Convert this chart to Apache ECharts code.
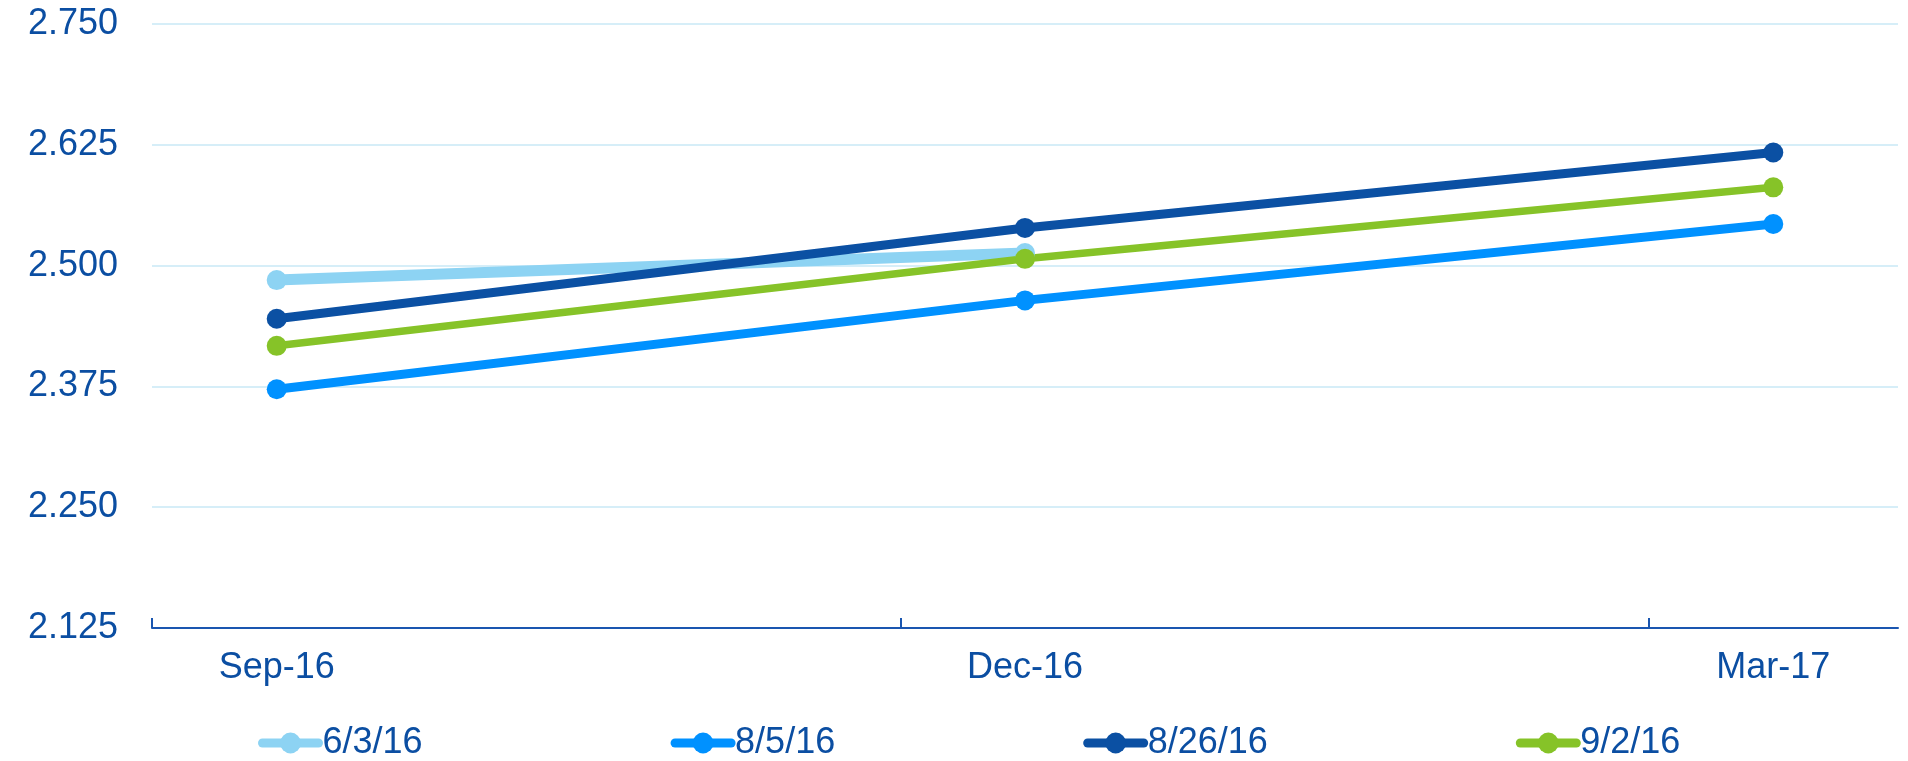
<!DOCTYPE html>
<html>
<head>
<meta charset="utf-8">
<script src="https://cdn.jsdelivr.net/npm/echarts@6/dist/echarts.min.js"></script>
<style>
  html, body { margin: 0; padding: 0; background: #fff; }
  #chart { width: 1908px; height: 761px; }
</style>
</head>
<body>
<div id="chart"></div>
<script>
// date axis in months from Sep-16; each point sits in the middle of its month
const categories = ['Sep-16', 'Dec-16', 'Mar-17']
const monthOffsets = [0, 3, 6]
const seriesNames = ['6/3/16', '8/5/16', '8/26/16', '9/2/16']
const vals0603 = [2.485, 2.513, null]
const vals0805 = [2.372, 2.464, 2.543]
const vals0826 = [2.445, 2.539, 2.617]
const vals0902 = [2.417, 2.507, 2.581]
const yTicks = [2.125, 2.25, 2.375, 2.5, 2.625, 2.75]

const textColor = '#0B4EA2'
const font = 'Liberation Sans, Arial, sans-serif'
const colors = ['#8DD3F3', '#0091FF', '#0B50A3', '#86C328']
const widths = [11, 9, 9, 7.5]
const allVals = [vals0603, vals0805, vals0826, vals0902]

const chart = echarts.init(document.getElementById('chart'))
chart.setOption({
  animation: false,
  grid: {
    left: 152,
    right: 10,
    top: 24,
    bottom: 133
  },
  legend: {
    left: 253,
    top: 720,
    itemGap: 248,
    itemWidth: 56,
    itemHeight: 26,
    textStyle: {
      color: textColor,
      fontSize: 36,
      fontFamily: font,
      padding: [0, 0, 0, -1]
    },
    data: seriesNames.map((name, i) => ({
      name: name,
      lineStyle: { color: colors[i], width: 9, cap: 'round' },
      itemStyle: { color: colors[i] }
    }))
  },
  xAxis: {
    type: 'value',
    min: -0.5,
    max: 6.5,
    axisLine: {
      show: true,
      lineStyle: { color: '#1A56B0', width: 2 }
    },
    axisTick: {
      show: true,
      inside: true,
      length: 10,
      customValues: [-0.5, 2.5, 5.5],
      lineStyle: { color: '#1A56B0', width: 2 }
    },
    axisLabel: {
      customValues: monthOffsets,
      margin: 22,
      color: textColor,
      fontSize: 36,
      fontFamily: font,
      formatter: v => categories[monthOffsets.indexOf(Math.round(v))] || ''
    },
    splitLine: { show: false }
  },
  yAxis: {
    type: 'value',
    min: yTicks[0],
    max: yTicks[yTicks.length - 1],
    interval: 0.125,
    axisLine: { show: false },
    axisTick: { show: false },
    axisLabel: {
      margin: 34,
      color: textColor,
      fontSize: 36,
      fontFamily: font,
      formatter: v => v.toFixed(3)
    },
    splitLine: {
      lineStyle: { color: '#C8E8F6', width: 1.5 }
    }
  },
  series: seriesNames.map((name, i) => ({
    name: name,
    type: 'line',
    data: allVals[i].map((v, j) => [monthOffsets[j], v]),
    connectNulls: true,
    symbol: 'circle',
    symbolSize: 20,
    color: colors[i],
    lineStyle: { color: colors[i], width: widths[i] },
    itemStyle: { color: colors[i] }
  }))
})
</script>
</body>
</html>
